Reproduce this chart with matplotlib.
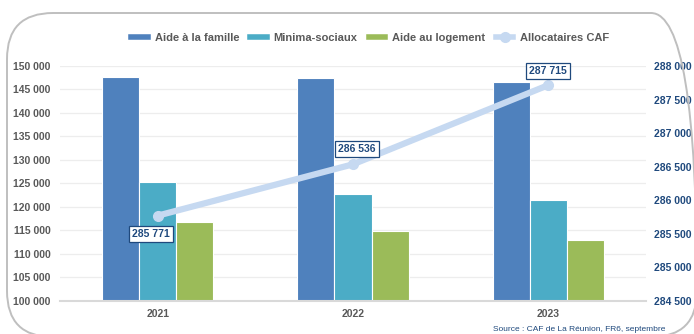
"""Prestations CAF de La Réunion par type, 2021-2023, avec le nombre d'allocataires."""

import matplotlib
matplotlib.use("Agg")
import matplotlib.pyplot as plt
import numpy as np
from matplotlib.lines import Line2D
from matplotlib.patches import FancyBboxPatch
from matplotlib.ticker import FuncFormatter

years = ["2021", "2022", "2023"]
aide_famille = [147600, 147400, 146700]
minima_sociaux = [125400, 122700, 121400]
aide_logement = [116850, 114850, 112950]
allocataires = [285771, 286536, 287715]

series_names = ["Aide à la famille", "Minima-sociaux", "Aide au logement"]
series_colors = ["#4F81BD", "#4BACC6", "#9BBB59"]
line_color = "#C6D9F1"
label_blue = "#1F497D"
gray_text = "#595959"

plt.rcParams["font.family"] = ["Liberation Sans", "DejaVu Sans"]
plt.rcParams["font.weight"] = "bold"

W, H = 694, 334
fig = plt.figure(figsize=(W / 100, H / 100), dpi=100)

# rounded frame around the whole chart, partly outside the canvas
frame = FancyBboxPatch((7 / 100, -3 / 100), 690 / 100, (H - 13 + 3) / 100,
                       boxstyle="round,pad=0,rounding_size=0.46",
                       transform=fig.dpi_scale_trans, fill=False,
                       edgecolor="#BFBFBF", linewidth=1.4, zorder=0)
fig.patches.append(frame)

ax = fig.add_axes([60 / W, 1 - 301 / H, 586 / W, 235 / H])
ax.set_facecolor("none")

x = np.arange(len(years))
bw = 0.19
for i, (vals, col) in enumerate(zip([aide_famille, minima_sociaux, aide_logement], series_colors)):
    ax.bar(x + (i - 1) * bw, vals, width=bw, color=col, edgecolor="white",
           linewidth=0.8, zorder=2)

ax.set_xlim(-0.5, 2.5)
ax.set_ylim(100000, 150000)
ax.set_yticks(np.arange(100000, 150001, 5000))
fmt = FuncFormatter(lambda v, _: f"{int(v):,}".replace(",", " "))
ax.yaxis.set_major_formatter(fmt)
ax.set_xticks(x)
ax.set_xticklabels(years)
ax.grid(axis="y", color="#EDEDED", linewidth=0.9, zorder=0)
ax.set_axisbelow(True)
for s in ["top", "right", "left"]:
    ax.spines[s].set_visible(False)
ax.spines["bottom"].set_color("#D9D9D9")
ax.spines["bottom"].set_linewidth(1.5)
ax.tick_params(axis="y", length=0, pad=7, labelsize=7.5, labelcolor=gray_text)
ax.tick_params(axis="x", length=0, pad=6, labelsize=7.5, labelcolor=gray_text)

ax2 = ax.twinx()
ax2.set_ylim(284500, 288000)
ax2.set_yticks(np.arange(284500, 288001, 500))
ax2.yaxis.set_major_formatter(fmt)
for s in ax2.spines.values():
    s.set_visible(False)
ax2.tick_params(axis="y", length=0, pad=6, labelsize=7.5, labelcolor=label_blue)
ax2.plot(x, allocataires, color=line_color, linewidth=4.5, marker="o",
         markersize=7, solid_capstyle="round", zorder=3)

offsets = [(-5, -13), (3, 11), (0, 10)]
for xi, v, off in zip(x, allocataires, offsets):
    ax2.annotate(f"{v:,}".replace(",", " "), (xi, v), xytext=off,
                 textcoords="offset points", ha="center", va="center",
                 fontsize=7.5, color=label_blue, fontweight="bold", zorder=5,
                 bbox=dict(boxstyle="square,pad=0.3", facecolor="white",
                           edgecolor=label_blue, linewidth=0.9))

handles = [Line2D([], [], color=c, linewidth=4) for c in series_colors]
handles.append(Line2D([], [], color=line_color, linewidth=4, marker="o",
                      markersize=7))
fig.legend(handles, series_names + ["Allocataires CAF"], loc="center",
           bbox_to_anchor=(370 / W, 1 - 38 / H), ncol=4, frameon=False,
           fontsize=8, labelcolor=gray_text, handlelength=1.5,
           handletextpad=0.6, columnspacing=1.0)

fig.text(493 / W, 1 - 333 / H, "Source : CAF de La Réunion, FR6, septembre",
         fontsize=6, fontweight="normal", color=label_blue, ha="left",
         va="bottom")

fig.savefig("out.png", dpi=100)
